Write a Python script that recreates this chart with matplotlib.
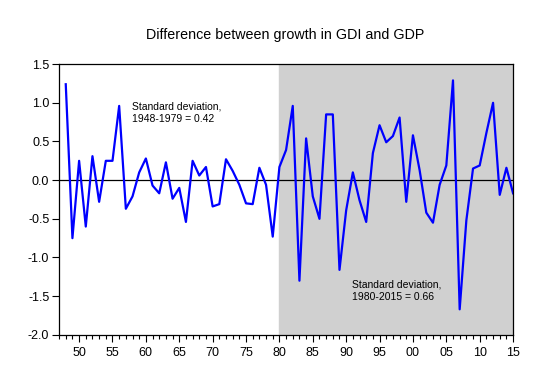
import matplotlib
matplotlib.use("Agg")
import matplotlib.pyplot as plt
from matplotlib.ticker import FuncFormatter, MultipleLocator

plt.rcParams['font.family'] = ['Liberation Sans', 'DejaVu Sans']
plt.rcParams['axes.unicode_minus'] = False

# Data: GDI growth minus GDP growth, 1948-2015
years = list(range(1948, 2016))
diff = [1.24, -0.75, 0.25, -0.60, 0.31, -0.28, 0.25, 0.25, 0.96, -0.37,
        -0.21, 0.10, 0.28, -0.07, -0.17, 0.23, -0.24, -0.10, -0.54, 0.25,
        0.06, 0.17, -0.34, -0.31, 0.27, 0.12, -0.06, -0.30, -0.31, 0.16,
        -0.06, -0.73, 0.17, 0.39, 0.96, -1.30, 0.54, -0.21, -0.50, 0.85,
        0.85, -1.16, -0.39, 0.10, -0.26, -0.54, 0.35, 0.71, 0.49, 0.57,
        0.81, -0.28, 0.58, 0.13, -0.42, -0.55, -0.06, 0.19, 1.29, -1.67,
        -0.52, 0.15, 0.19, 0.61, 1.00, -0.19, 0.16, -0.17]
shade_start = 1980
note1 = "Standard deviation,\n1948-1979 = 0.42"
note2 = "Standard deviation,\n1980-2015 = 0.66"

fig = plt.figure(figsize=(5.47, 3.84), dpi=100)
ax = fig.add_axes([0.108, 0.128, 0.830, 0.705])

ax.axvspan(shade_start, years[-1], color='#d0d0d0', zorder=0)
ax.axhline(0, color='black', lw=0.9, zorder=1)
ax.plot(years, diff, color='#0000ff', lw=1.6, zorder=2)

ax.set_xlim(1947, 2015)
ax.set_ylim(-2.0, 1.5)
ax.xaxis.set_major_locator(MultipleLocator(5))
ax.xaxis.set_minor_locator(MultipleLocator(1))
ax.xaxis.set_major_formatter(FuncFormatter(lambda x, p: "%02d" % (int(round(x)) % 100)))
ax.yaxis.set_major_locator(MultipleLocator(0.5))
ax.yaxis.set_major_formatter(FuncFormatter(lambda y, p: "%.1f" % y))
ax.tick_params(axis='both', which='major', labelsize=9, direction='out', width=0.8)
ax.tick_params(axis='x', which='major', length=5, pad=4)
ax.tick_params(axis='x', which='minor', length=3, width=0.8)
ax.tick_params(axis='y', which='major', length=5, pad=2)
for s in ax.spines.values():
    s.set_linewidth(0.9)

ax.text(1957.9, 1.02, note1, fontsize=7.5, va='top', ha='left', linespacing=1.35)
ax.text(1990.9, -1.28, note2, fontsize=7.5, va='top', ha='left', linespacing=1.35)

fig.text(0.522, 0.908, "Difference between growth in GDI and GDP",
         ha='center', va='center', fontsize=10.3)

fig.savefig("out.png", dpi=100)
